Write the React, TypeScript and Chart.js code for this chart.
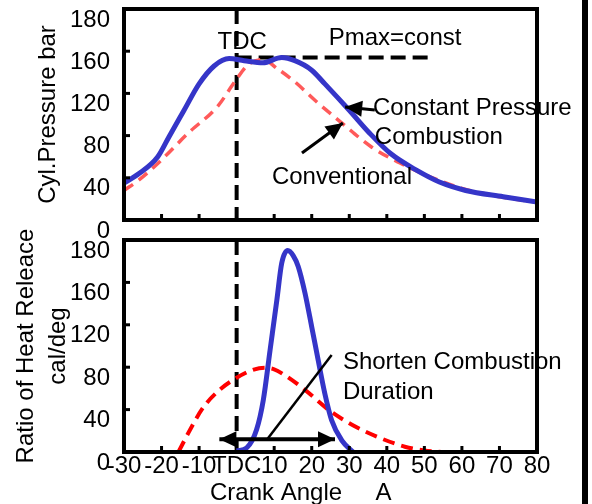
import React, { useEffect, useRef } from 'react';
import { Chart, registerables } from 'chart.js';

Chart.register(...registerables);

const FONT = '"Liberation Sans", Arial, Helvetica, sans-serif';

// ---- Top panel: cylinder pressure (bar) vs crank angle ----
const topBlueAngles = [-30, -26, -21, -18, -14, -10, -6, -2, 2, 7, 12, 15.5, 20, 23.5, 30, 35.5, 41, 48, 54, 61, 71, 80];
const topBlueValues = [35, 44, 60, 79, 104, 129, 146, 153, 151, 149, 154, 151, 142, 129, 104, 82, 63, 47, 36, 28, 22, 17];
const topRedAngles = [-30, -26, -20, -13, -5, -0.5, 3, 7, 11, 15.5, 21, 28, 36, 43.5, 51.5, 60, 70, 80];
const topRedValues = [28, 38, 57, 82, 108, 131, 147, 152, 143, 131, 113, 92, 69, 54, 41, 30, 22, 17];

// ---- Bottom panel: rate of heat release (cal/deg) vs crank angle ----
const botBlueAngles = [0, 2.7, 5.3, 7.1, 8.9, 10.7, 12, 13.6, 15.1, 16.4, 18.2, 20, 21.7, 23.5, 25.3, 28, 31];
const botBlueValues = [1, 4, 21, 49, 96, 143, 178, 190, 185, 175, 150, 118, 87, 55, 30, 11, 0];
const botRedAngles = [-15.5, -12.4, -8.9, -4.4, 0, 4, 7.5, 10, 13, 18.2, 24.4, 30.6, 37.7, 44.8, 50, 54.6];
const botRedValues = [0, 21, 42, 59, 70, 77, 79.5, 78, 72, 58.6, 40, 26, 14, 5, 1.5, 0];

// ---- Axes ----
const xTickValues = [-30, -20, -10, 0, 10, 20, 30, 40, 50, 60, 70, 80];
const xTickLabels = ['-30', '-20', '-10', 'TDC', '10', '20', '30', '40', '50', '60', '70', '80'];
const yTickLabels = ['0', '40', '80', '120', '160', '180'];

// ---- Reference lines ----
const tdcAngle = 0;
const pmaxLevel = 154;
const pmaxEndAngle = 52;

type Txt = { t: string; x: number; y: number; align: CanvasTextAlign };
type Arrow = { x1: number; y1: number; x2: number; y2: number; both?: boolean; width: number; head: boolean };

const topTexts: Txt[] = [
  { t: 'TDC', x: 1.5, y: 168, align: 'center' },
  { t: 'Pmax=const', x: 42.2, y: 172, align: 'center' },
  { t: 'Constant Pressure', x: 36.3, y: 106, align: 'left' },
  { t: 'Combustion', x: 36.8, y: 78.7, align: 'left' },
  { t: 'Conventional', x: 9.4, y: 40.8, align: 'left' },
];
const topArrows: Arrow[] = [
  { x1: 36.8, y1: 104.3, x2: 28.9, y2: 107.1, width: 3, head: true },
  { x1: 17.4, y1: 63.5, x2: 28.3, y2: 92, width: 3, head: true },
];
const botTexts: Txt[] = [
  { t: 'Shorten Combustion', x: 28.3, y: 84.9, align: 'left' },
  { t: 'Duration', x: 28.3, y: 56.6, align: 'left' },
];
const botArrows: Arrow[] = [
  { x1: -4.6, y1: 12, x2: 26.2, y2: 12, both: true, width: 4, head: true },
  { x1: 8.0, y1: 11.3, x2: 25.3, y2: 91.5, width: 2.5, head: false },
];
const xTitleParts = [
  { t: 'Crank Angle', x: 10.5 },
  { t: 'A', x: 39.1 },
];

function arrowHead(ctx: CanvasRenderingContext2D, fx: number, fy: number, tx: number, ty: number) {
  const ang = Math.atan2(ty - fy, tx - fx);
  const len = 17, half = 8;
  ctx.beginPath();
  ctx.moveTo(tx, ty);
  ctx.lineTo(tx - len * Math.cos(ang) + half * Math.sin(ang), ty - len * Math.sin(ang) - half * Math.cos(ang));
  ctx.lineTo(tx - len * Math.cos(ang) - half * Math.sin(ang), ty - len * Math.sin(ang) + half * Math.cos(ang));
  ctx.closePath();
  ctx.fill();
}

function makePlugin(kind: 'top' | 'bottom') {
  return {
    id: 'panel_' + kind,
    beforeDatasetsDraw(chart: any) {
      const { ctx, chartArea: a, scales } = chart;
      const x = scales.x, y = scales.y;
      ctx.save();
      ctx.strokeStyle = '#000';
      ctx.lineWidth = 4;
      ctx.setLineDash([15, 7]);
      const tx = x.getPixelForValue(tdcAngle);
      ctx.beginPath();
      ctx.moveTo(tx, a.top);
      ctx.lineTo(tx, a.bottom);
      ctx.stroke();
      if (kind === 'top') {
        const py = y.getPixelForValue(pmaxLevel);
        ctx.beginPath();
        ctx.moveTo(tx, py);
        ctx.lineTo(x.getPixelForValue(pmaxEndAngle), py);
        ctx.stroke();
      }
      ctx.restore();
    },
    afterDatasetsDraw(chart: any) {
      const { ctx, chartArea: a, scales } = chart;
      const x = scales.x, y = scales.y;
      ctx.save();
      ctx.setLineDash([]);
      ctx.strokeStyle = '#000';
      ctx.fillStyle = '#000';
      // inner tick marks
      ctx.lineWidth = 3;
      for (const v of xTickValues) {
        if (v === -30 || v === 80 || v === tdcAngle) continue;
        const px = x.getPixelForValue(v);
        ctx.beginPath();
        ctx.moveTo(px, a.bottom);
        ctx.lineTo(px, a.bottom - 6);
        ctx.stroke();
      }
      for (let v = 40; v < 200; v += 40) {
        const py = y.getPixelForValue(v);
        ctx.beginPath();
        ctx.moveTo(a.left, py);
        ctx.lineTo(a.left + 6, py);
        ctx.stroke();
      }
      // frame
      ctx.lineWidth = 4;
      ctx.strokeRect(a.left, a.top, a.right - a.left, a.bottom - a.top);
      // arrows
      const arrows = kind === 'top' ? topArrows : botArrows;
      for (const ar of arrows) {
        const x1 = x.getPixelForValue(ar.x1), y1 = y.getPixelForValue(ar.y1);
        const x2 = x.getPixelForValue(ar.x2), y2 = y.getPixelForValue(ar.y2);
        ctx.lineWidth = ar.width;
        ctx.beginPath();
        ctx.moveTo(x1, y1);
        ctx.lineTo(x2, y2);
        ctx.stroke();
        if (ar.head) {
          arrowHead(ctx, x1, y1, x2, y2);
          if (ar.both) arrowHead(ctx, x2, y2, x1, y1);
        }
      }
      // texts
      ctx.font = '24px ' + FONT;
      ctx.textBaseline = 'middle';
      const texts = kind === 'top' ? topTexts : botTexts;
      for (const tt of texts) {
        ctx.textAlign = tt.align;
        ctx.fillText(tt.t, x.getPixelForValue(tt.x), y.getPixelForValue(tt.y));
      }
      if (kind === 'bottom') {
        ctx.textAlign = 'center';
        ctx.textBaseline = 'alphabetic';
        for (const p of xTitleParts) {
          ctx.fillText(p.t, x.getPixelForValue(p.x), a.bottom + 48);
        }
      }
      ctx.restore();
    },
  };
}

function pts(xs: number[], ys: number[]) {
  return xs.map((v, i) => ({ x: v, y: ys[i] }));
}

function buildConfig(kind: 'top' | 'bottom'): any {
  const isTop = kind === 'top';
  const datasets = isTop
    ? [
        { data: pts(topBlueAngles, topBlueValues), borderColor: '#3535c8', borderWidth: 5 },
        { data: pts(topRedAngles, topRedValues), borderColor: '#ff5a5a', borderWidth: 3.5, borderDash: [11, 7] },
      ]
    : [
        { data: pts(botBlueAngles, botBlueValues), borderColor: '#3535c8', borderWidth: 5 },
        { data: pts(botRedAngles, botRedValues), borderColor: '#ff0000', borderWidth: 4, borderDash: [12, 7] },
      ];
  const xScale: any = {
    type: 'linear',
    min: -30,
    max: 80,
    display: !isTop,
    grid: { display: false, drawTicks: false },
    border: { display: false },
    ticks: {
      stepSize: 10,
      autoSkip: false,
      maxRotation: 0,
      minRotation: 0,
      padding: 0,
      color: '#000',
      font: { family: FONT, size: 24 },
      callback: (v: number) => {
        const i = xTickValues.indexOf(v);
        return i >= 0 ? xTickLabels[i] : '';
      },
    },
  };
  if (!isTop) {
    xScale.afterFit = (s: any) => {
      s.height = 52;
      s.paddingLeft = 0;
      s.paddingRight = 0;
    };
  }
  return {
    type: 'line',
    data: {
      datasets: datasets.map((d) => ({
        ...d,
        pointRadius: 0,
        fill: false,
        cubicInterpolationMode: 'monotone',
        borderCapStyle: 'butt',
      })),
    },
    options: {
      responsive: false,
      animation: false,
      devicePixelRatio: 1,
      layout: { padding: isTop ? { top: 9, right: 55, bottom: 25, left: 0 } : { top: 18, right: 55, bottom: 0, left: 0 } },
      plugins: { legend: { display: false }, tooltip: { enabled: false }, title: { display: false } },
      scales: {
        x: xScale,
        y: {
          type: 'linear',
          min: 0,
          max: 200,
          grid: { display: false, drawTicks: false },
          border: { display: false },
          ticks: {
            stepSize: 40,
            padding: 14,
            labelOffset: 11,
            color: '#000',
            font: { family: FONT, size: 24 },
            callback: (v: number) => yTickLabels[Math.round(v / 40)] ?? '',
          },
          title: isTop
            ? { display: true, text: 'Cyl.Pressure bar', color: '#000', font: { family: FONT, size: 24 }, padding: { top: 34, bottom: 0 } }
            : {
                display: true,
                text: ['Ratio of Heat Releace', 'cal/deg'],
                color: '#000',
                font: { family: FONT, size: 24, lineHeight: 32 / 24 },
                padding: { top: 10, bottom: 0 },
              },
          afterFit: (s: any) => {
            s.width = 124;
            s.paddingTop = 0;
            s.paddingBottom = 0;
          },
        },
      },
    },
    plugins: [makePlugin(kind)],
  };
}

export default function App() {
  const topRef = useRef<HTMLCanvasElement | null>(null);
  const botRef = useRef<HTMLCanvasElement | null>(null);

  useEffect(() => {
    const c1 = new Chart(topRef.current as HTMLCanvasElement, buildConfig('top'));
    const c2 = new Chart(botRef.current as HTMLCanvasElement, buildConfig('bottom'));
    return () => {
      c1.destroy();
      c2.destroy();
    };
  }, []);

  return (
    <div style={{ position: 'fixed', left: 0, top: 0, width: 592, height: 504, background: '#fff', overflow: 'hidden' }}>
      <canvas ref={topRef} width={592} height={245} style={{ position: 'absolute', left: 0, top: 0, width: 592, height: 245 }} />
      <canvas ref={botRef} width={592} height={282} style={{ position: 'absolute', left: 0, top: 222, width: 592, height: 282 }} />
      <div style={{ position: 'absolute', left: 582, top: 0, width: 6, height: 504, background: '#000' }} />
    </div>
  );
}
